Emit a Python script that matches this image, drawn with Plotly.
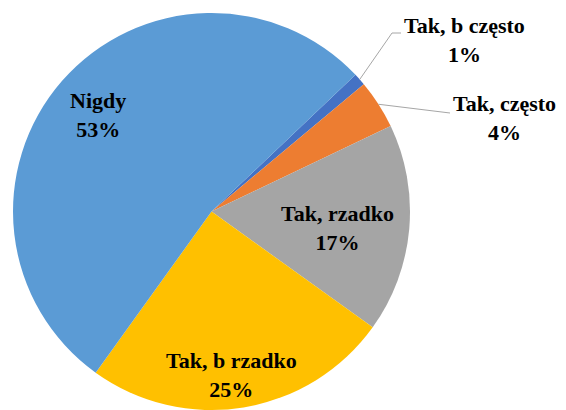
import math
import plotly.graph_objects as go

labels = ["Tak, b często", "Tak, często", "Tak, rzadko", "Tak, b rzadko", "Nigdy"]
values = [1, 4, 17, 25, 53]
colors = ["#4472C4", "#ED7D31", "#A5A5A5", "#FFC000", "#5B9BD5"]

# page has an 8px body margin; figure sized to fit inside the window
OFF = 8
W, H = 558, 402
L, T, B = 5, 5, 0
PW = 397
PH = H - T - B
R_ = W - L - PW
ROT = 46.5

font = dict(family="'Liberation Serif', 'Times New Roman', serif",
            size=22, color="#000000", weight="bold")

fig = go.Figure(go.Pie(
    labels=labels, values=values, sort=False, direction="clockwise", rotation=ROT,
    marker=dict(colors=colors, line=dict(width=0)),
    textinfo="none", hoverinfo="label+percent", showlegend=False,
))

r = min(PW, PH) / 2
cx, cy = OFF + L + PW / 2, OFF + T + PH / 2   # page pixel coords
def px(x): return (x - OFF - L) / PW
def py(y): return 1 - (y - OFF - T) / PH

total = sum(values)
cfg = {
    0: dict(out=True, xy=(465, 40), bend=[(392, 33), (401, 33)]),
    1: dict(out=True, xy=(504, 118), bend=[(450, 113)]),
    2: dict(out=False, frac=0.64, dang=2.5),
    3: dict(out=False, frac=0.83, dang=2.5),
    4: dict(out=False, frac=0.75, dang=-0.7),
}
ann, shapes = [], []
acc = ROT
for i, v in enumerate(values):
    mid = acc + v / total * 180
    acc += v / total * 360
    c = cfg[i]
    txt = f"{labels[i]}<br>{values[i]}%"
    if c["out"]:
        a = math.radians(mid)
        sx, sy = cx + r * math.sin(a), cy - r * math.cos(a)
        pts = [(sx, sy)] + c["bend"]
        path = "M " + " L ".join(f"{px(x)} {py(y)}" for x, y in pts)
        shapes.append(dict(type="path", path=path, xref="paper", yref="paper",
                           line=dict(color="#A6A6A6", width=1)))
        lx, ly = c["xy"]
    else:
        a = math.radians(mid + c["dang"])
        lx, ly = cx + c["frac"] * r * math.sin(a), cy - c["frac"] * r * math.cos(a)
    ann.append(dict(text=txt, x=px(lx), y=py(ly), xref="paper", yref="paper",
                    showarrow=False, font=font, xanchor="center", yanchor="middle",
                    align="center"))

fig.update_layout(width=W, height=H, margin=dict(l=L, r=R_, t=T, b=B),
                  paper_bgcolor="white", plot_bgcolor="white",
                  annotations=ann, shapes=shapes)
fig.write_html("out.html")
